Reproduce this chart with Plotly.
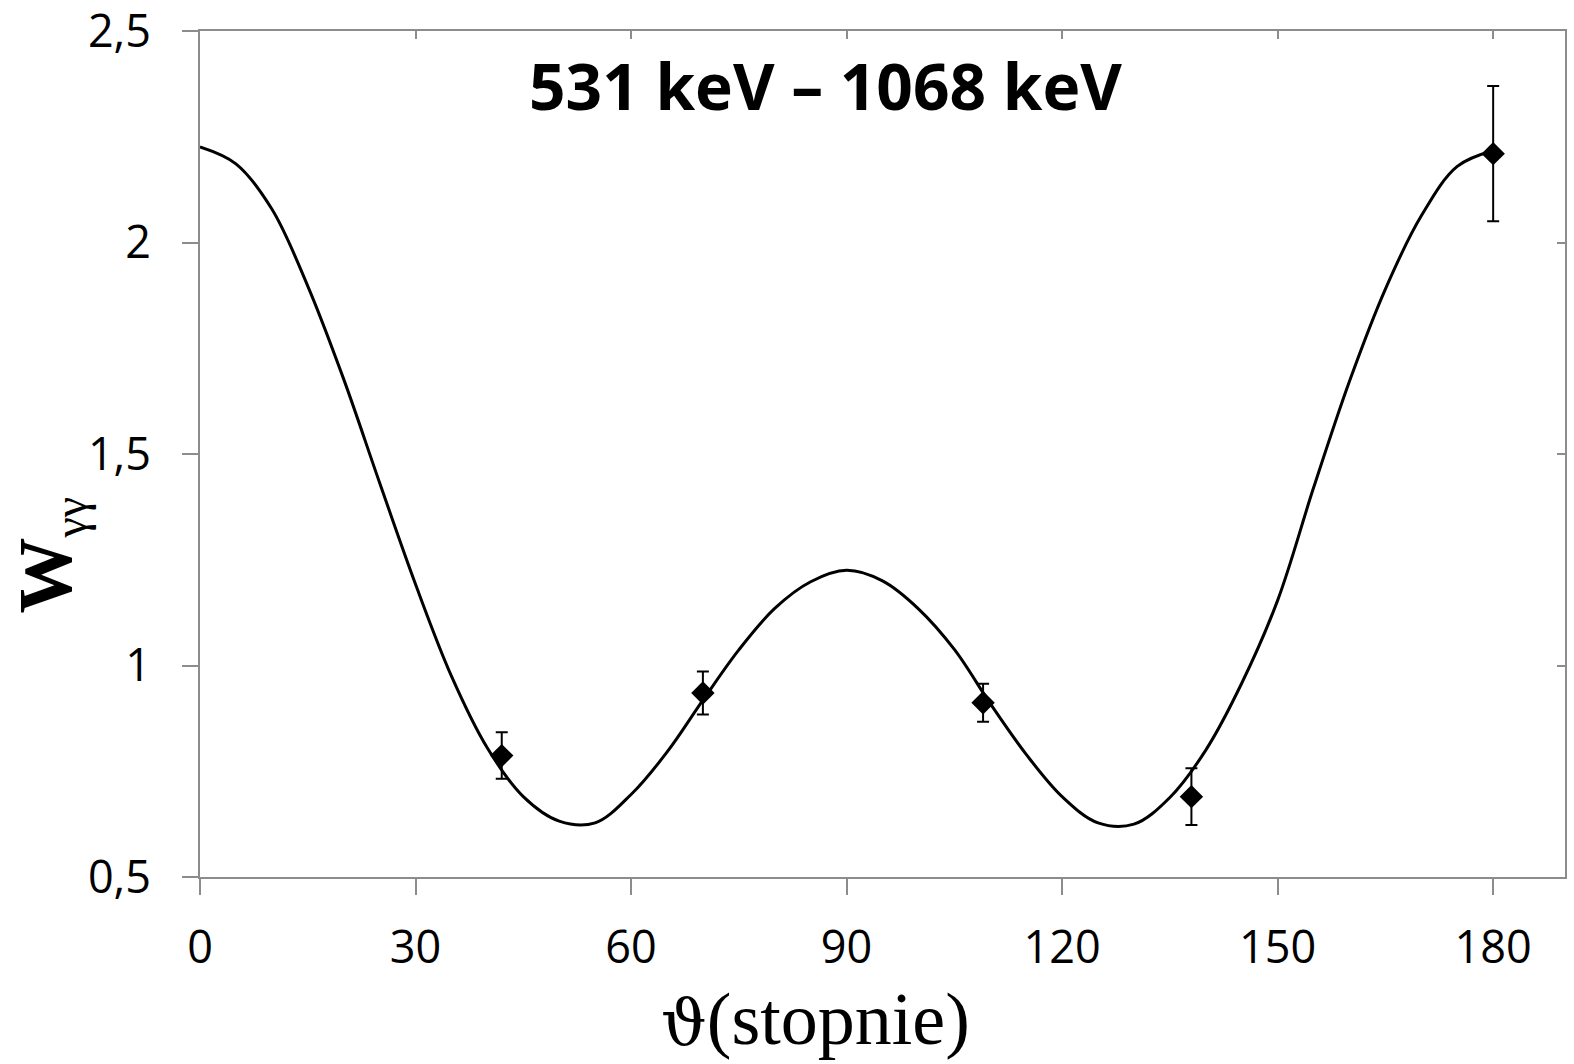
import plotly.graph_objects as go

# Measured angular correlation W(theta) for the 531 keV - 1068 keV cascade
theta_meas = [42, 70, 109, 138, 180]
w_meas = [0.787, 0.935, 0.912, 0.690, 2.210]
w_err = [0.055, 0.051, 0.045, 0.067, 0.160]

# Fitted correlation curve, sampled every 5 degrees
theta_fit = [0, 5, 10, 15, 20, 25, 30, 35, 40, 45, 50, 55, 60, 65, 70, 75, 80,
             85, 90, 95, 100, 105, 110, 115, 120, 125, 130, 135, 140, 145, 150,
             155, 160, 165, 170, 175, 180]
w_fit = [2.226, 2.186, 2.079, 1.897, 1.677, 1.432, 1.192, 0.975, 0.805, 0.690,
         0.632, 0.628, 0.695, 0.795, 0.918, 1.037, 1.135, 1.198, 1.225, 1.200,
         1.134, 1.038, 0.910, 0.790, 0.690, 0.628, 0.625, 0.688, 0.800, 0.958,
         1.154, 1.420, 1.672, 1.890, 2.063, 2.180, 2.217]

x_ticks = [0, 30, 60, 90, 120, 150, 180]
y_ticks = [0.5, 1.0, 1.5, 2.0, 2.5]
y_tick_text = ["0,5", "1", "1,5", "2", "2,5"]

x_range = [0, 190]
y_range = [0.5, 2.5]

AXIS_GREY = "#8c8c8c"
TICK_FONT = dict(family="Open Sans", size=45, color="black")
SERIF = "Liberation Serif, Times New Roman, serif"

fig = go.Figure()

fig.add_trace(go.Scatter(
    x=theta_fit, y=w_fit, mode="lines",
    line=dict(color="black", width=3, shape="spline", smoothing=1.0),
    hoverinfo="skip", showlegend=False,
))

fig.add_trace(go.Scatter(
    x=theta_meas, y=w_meas, mode="markers",
    marker=dict(symbol="diamond", size=18, color="black"),
    error_y=dict(type="data", array=w_err, visible=True,
                 color="black", thickness=2, width=6),
    showlegend=False,
))

# Mirror axes (top / right) carrying the short inward ticks
fig.add_trace(go.Scatter(
    x=theta_meas, y=w_meas, xaxis="x2", yaxis="y2", mode="markers",
    marker=dict(opacity=0), hoverinfo="skip", showlegend=False,
))

fig.update_layout(
    width=1574, height=1064,
    margin=dict(l=200, r=9, t=31, b=187),
    paper_bgcolor="white", plot_bgcolor="white",
    xaxis=dict(
        range=x_range, tickvals=x_ticks, ticktext=[str(v) for v in x_ticks],
        showline=True, linecolor=AXIS_GREY, linewidth=2,
        ticks="outside", ticklen=16, tickwidth=2, tickcolor=AXIS_GREY,
        showgrid=False, zeroline=False, tickfont=TICK_FONT,
        ticklabelstandoff=14, ticklabeloverflow="allow", automargin=False,
    ),
    yaxis=dict(
        range=y_range, tickvals=y_ticks, ticktext=y_tick_text,
        showline=True, linecolor=AXIS_GREY, linewidth=2,
        ticks="outside", ticklen=16, tickwidth=2, tickcolor=AXIS_GREY,
        showgrid=False, zeroline=False, tickfont=TICK_FONT,
        ticklabelstandoff=22, ticklabeloverflow="allow", automargin=False,
    ),
    xaxis2=dict(
        range=x_range, tickvals=x_ticks, overlaying="x", side="top", anchor="y",
        showline=True, linecolor=AXIS_GREY, linewidth=2,
        ticks="inside", ticklen=8, tickwidth=2, tickcolor=AXIS_GREY,
        showticklabels=False, showgrid=False, zeroline=False, automargin=False,
    ),
    yaxis2=dict(
        range=y_range, tickvals=y_ticks, overlaying="y", side="right", anchor="x",
        showline=True, linecolor=AXIS_GREY, linewidth=2,
        ticks="inside", ticklen=8, tickwidth=2, tickcolor=AXIS_GREY,
        showticklabels=False, showgrid=False, zeroline=False, automargin=False,
    ),
    annotations=[
        dict(text="<b>531 keV – 1068 keV</b>", xref="paper", yref="paper",
             x=0.4586, y=0.936, xanchor="center", yanchor="middle",
             showarrow=False,
             font=dict(family="Open Sans", size=64, color="black")),
        dict(text=("<b><span style='font-family:Liberation Serif'>W</span></b>"
                   "<sub><span style='font-size:46px;font-family:Liberation Serif'>"
                   "γγ</span></sub>"),
             xref="paper", yref="paper",
             x=-0.1106, y=0.38, xanchor="center", yanchor="middle",
             textangle=-90, showarrow=False,
             font=dict(family=SERIF, size=76, color="black")),
        dict(text=("<span style='font-family:DejaVu Serif;font-size:64px'>ϑ</span>"
                   "(stopnie)"),
             xref="paper", yref="paper",
             x=0.451, y=-0.168, xanchor="center", yanchor="middle",
             showarrow=False,
             font=dict(family=SERIF, size=74, color="black")),
    ],
)

fig.write_html("out.html")
